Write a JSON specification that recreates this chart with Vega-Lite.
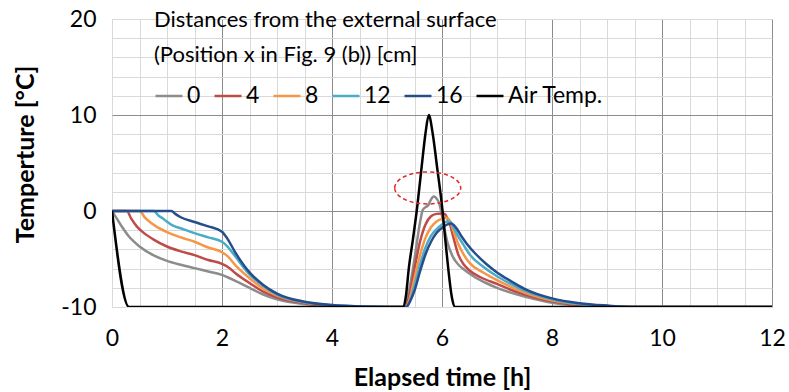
{
  "$schema": "https://vega.github.io/schema/vega-lite/v6.json",
  "width": 660,
  "height": 288,
  "autosize": {"type": "none"},
  "padding": {"left": 112, "top": 19, "right": 17, "bottom": 85},
  "background": "white",
  "config": {"font": "Lato", "view": {"stroke": "#d9d9d9"}, "axis": {"labelOverlap": false, "labelFlush": false}},
  "encoding": {
    "x": {"field": "t", "type": "quantitative", "scale": {"domain": [0, 12], "nice": false},
      "axis": {"title": "Elapsed time [h]", "values": [0,0.5,1,1.5,2,2.5,3,3.5,4,4.5,5,5.5,6,6.5,7,7.5,8,8.5,9,9.5,10,10.5,11,11.5,12],
        "labelExpr": "datum.value % 2 === 0 ? '' + datum.value : ''", "labelOverlap": false,
        "gridColor": {"condition": {"test": "datum.value % 2 === 0 && datum.value > 0", "value": "#8c8c8c"}, "value": "#d9d9d9"},
        "domain": false, "ticks": false, "labelFontSize": 23, "labelColor": "#000", "labelPadding": 20,
        "titleFontSize": 25, "titleFontWeight": "bold", "titleColor": "#000", "titlePadding": 15}},
    "y": {"field": "T", "type": "quantitative", "scale": {"domain": [-10, 20], "nice": false},
      "axis": {"title": "Temperture [°C]", "values": [-10,-8,-6,-4,-2,0,2,4,6,8,10,12,14,16,18,20],
        "labelExpr": "datum.value % 10 === 0 ? '' + datum.value : ''", "labelOverlap": false,
        "gridColor": {"condition": {"test": "datum.value === 0 || datum.value === 10", "value": "#8c8c8c"}, "value": "#d9d9d9"},
        "domain": false, "ticks": false, "labelFontSize": 23, "labelColor": "#000", "labelPadding": 16,
        "titleFontSize": 25, "titleFontWeight": "bold", "titleColor": "#000", "titlePadding": 22, "titleY": 135}}
  },
  "layer": [
    {
      "data": {"values": [
        {"t":0,"T":0,"s":"0"},{"t":0.1,"T":-0.9,"s":"0"},{"t":0.2,"T":-1.8,"s":"0"},{"t":0.3,"T":-2.6,"s":"0"},{"t":0.4,"T":-3.2,"s":"0"},{"t":0.5,"T":-3.7,"s":"0"},{"t":0.75,"T":-4.6,"s":"0"},{"t":1,"T":-5.2,"s":"0"},{"t":1.25,"T":-5.6,"s":"0"},{"t":1.5,"T":-5.95,"s":"0"},{"t":1.75,"T":-6.3,"s":"0"},{"t":2,"T":-6.65,"s":"0"},{"t":2.1,"T":-6.9,"s":"0"},{"t":2.25,"T":-7.3,"s":"0"},{"t":2.5,"T":-8.0,"s":"0"},{"t":2.75,"T":-8.7,"s":"0"},{"t":3,"T":-9.2,"s":"0"},{"t":3.5,"T":-9.7,"s":"0"},{"t":4,"T":-9.9,"s":"0"},{"t":4.5,"T":-10,"s":"0"},{"t":5.3,"T":-10,"s":"0"},{"t":5.4,"T":-8.3,"s":"0"},{"t":5.5,"T":-5,"s":"0"},{"t":5.6,"T":-1.2,"s":"0"},{"t":5.65,"T":0.1,"s":"0"},{"t":5.7,"T":0.4,"s":"0"},{"t":5.75,"T":0.6,"s":"0"},{"t":5.8,"T":1.2,"s":"0"},{"t":5.85,"T":1.5,"s":"0"},{"t":5.9,"T":1.3,"s":"0"},{"t":5.95,"T":0.8,"s":"0"},{"t":6.0,"T":-0.5,"s":"0"},{"t":6.05,"T":-2.0,"s":"0"},{"t":6.1,"T":-3.3,"s":"0"},{"t":6.2,"T":-4.8,"s":"0"},{"t":6.3,"T":-5.6,"s":"0"},{"t":6.4,"T":-6.1,"s":"0"},{"t":6.6,"T":-6.9,"s":"0"},{"t":6.8,"T":-7.5,"s":"0"},{"t":7,"T":-8.0,"s":"0"},{"t":7.25,"T":-8.5,"s":"0"},{"t":7.5,"T":-8.9,"s":"0"},{"t":8,"T":-9.55,"s":"0"},{"t":8.5,"T":-9.85,"s":"0"},{"t":9,"T":-10,"s":"0"},{"t":12,"T":-10,"s":"0"},
        {"t":0,"T":0,"s":"4"},{"t":0.27,"T":0,"s":"4"},{"t":0.35,"T":-0.8,"s":"4"},{"t":0.45,"T":-1.6,"s":"4"},{"t":0.56,"T":-2.2,"s":"4"},{"t":0.75,"T":-2.95,"s":"4"},{"t":1,"T":-3.7,"s":"4"},{"t":1.25,"T":-4.2,"s":"4"},{"t":1.5,"T":-4.6,"s":"4"},{"t":1.75,"T":-5.1,"s":"4"},{"t":2,"T":-5.5,"s":"4"},{"t":2.1,"T":-5.8,"s":"4"},{"t":2.25,"T":-6.5,"s":"4"},{"t":2.5,"T":-7.5,"s":"4"},{"t":2.75,"T":-8.4,"s":"4"},{"t":3,"T":-9.0,"s":"4"},{"t":3.5,"T":-9.6,"s":"4"},{"t":4,"T":-9.9,"s":"4"},{"t":4.5,"T":-10,"s":"4"},{"t":5.3,"T":-10,"s":"4"},{"t":5.4,"T":-9,"s":"4"},{"t":5.5,"T":-6.0,"s":"4"},{"t":5.6,"T":-3.2,"s":"4"},{"t":5.7,"T":-1.4,"s":"4"},{"t":5.8,"T":-0.55,"s":"4"},{"t":5.9,"T":-0.3,"s":"4"},{"t":6.0,"T":-0.25,"s":"4"},{"t":6.05,"T":-0.3,"s":"4"},{"t":6.1,"T":-0.8,"s":"4"},{"t":6.15,"T":-1.5,"s":"4"},{"t":6.2,"T":-2.6,"s":"4"},{"t":6.3,"T":-4.6,"s":"4"},{"t":6.4,"T":-5.6,"s":"4"},{"t":6.5,"T":-6.2,"s":"4"},{"t":6.7,"T":-6.9,"s":"4"},{"t":7,"T":-7.6,"s":"4"},{"t":7.25,"T":-8.2,"s":"4"},{"t":7.5,"T":-8.7,"s":"4"},{"t":8,"T":-9.4,"s":"4"},{"t":8.5,"T":-9.8,"s":"4"},{"t":9,"T":-9.95,"s":"4"},{"t":9.5,"T":-10,"s":"4"},{"t":12,"T":-10,"s":"4"},
        {"t":0,"T":0,"s":"8"},{"t":0.5,"T":0,"s":"8"},{"t":0.6,"T":-0.7,"s":"8"},{"t":0.7,"T":-1.2,"s":"8"},{"t":0.8,"T":-1.6,"s":"8"},{"t":1,"T":-2.2,"s":"8"},{"t":1.25,"T":-2.75,"s":"8"},{"t":1.5,"T":-3.2,"s":"8"},{"t":1.75,"T":-3.8,"s":"8"},{"t":2,"T":-4.3,"s":"8"},{"t":2.1,"T":-4.7,"s":"8"},{"t":2.25,"T":-5.7,"s":"8"},{"t":2.5,"T":-7.0,"s":"8"},{"t":2.75,"T":-8.1,"s":"8"},{"t":3,"T":-8.8,"s":"8"},{"t":3.5,"T":-9.5,"s":"8"},{"t":4,"T":-9.85,"s":"8"},{"t":4.5,"T":-10,"s":"8"},{"t":5.32,"T":-10,"s":"8"},{"t":5.4,"T":-9.4,"s":"8"},{"t":5.5,"T":-7.0,"s":"8"},{"t":5.6,"T":-4.6,"s":"8"},{"t":5.7,"T":-2.8,"s":"8"},{"t":5.8,"T":-1.7,"s":"8"},{"t":5.9,"T":-1.1,"s":"8"},{"t":6.0,"T":-0.8,"s":"8"},{"t":6.08,"T":-0.7,"s":"8"},{"t":6.15,"T":-1.1,"s":"8"},{"t":6.2,"T":-1.9,"s":"8"},{"t":6.3,"T":-3.5,"s":"8"},{"t":6.4,"T":-4.6,"s":"8"},{"t":6.5,"T":-5.4,"s":"8"},{"t":6.75,"T":-6.4,"s":"8"},{"t":7,"T":-7.2,"s":"8"},{"t":7.25,"T":-7.9,"s":"8"},{"t":7.5,"T":-8.5,"s":"8"},{"t":8,"T":-9.3,"s":"8"},{"t":8.5,"T":-9.7,"s":"8"},{"t":9,"T":-9.9,"s":"8"},{"t":9.5,"T":-10,"s":"8"},{"t":12,"T":-10,"s":"8"},
        {"t":0,"T":0,"s":"12"},{"t":0.76,"T":0,"s":"12"},{"t":0.85,"T":-0.5,"s":"12"},{"t":0.93,"T":-0.8,"s":"12"},{"t":1.1,"T":-1.5,"s":"12"},{"t":1.25,"T":-1.8,"s":"12"},{"t":1.5,"T":-2.3,"s":"12"},{"t":1.75,"T":-2.75,"s":"12"},{"t":2,"T":-3.2,"s":"12"},{"t":2.1,"T":-3.7,"s":"12"},{"t":2.25,"T":-4.8,"s":"12"},{"t":2.5,"T":-6.6,"s":"12"},{"t":2.75,"T":-7.8,"s":"12"},{"t":3,"T":-8.7,"s":"12"},{"t":3.5,"T":-9.5,"s":"12"},{"t":4,"T":-9.8,"s":"12"},{"t":4.5,"T":-9.95,"s":"12"},{"t":5,"T":-10,"s":"12"},{"t":5.33,"T":-10,"s":"12"},{"t":5.4,"T":-9.6,"s":"12"},{"t":5.5,"T":-7.8,"s":"12"},{"t":5.6,"T":-5.6,"s":"12"},{"t":5.7,"T":-3.8,"s":"12"},{"t":5.8,"T":-2.6,"s":"12"},{"t":5.9,"T":-1.9,"s":"12"},{"t":6.0,"T":-1.4,"s":"12"},{"t":6.1,"T":-1.1,"s":"12"},{"t":6.15,"T":-1.15,"s":"12"},{"t":6.2,"T":-1.6,"s":"12"},{"t":6.3,"T":-2.7,"s":"12"},{"t":6.4,"T":-3.6,"s":"12"},{"t":6.5,"T":-4.5,"s":"12"},{"t":6.75,"T":-5.8,"s":"12"},{"t":7,"T":-6.8,"s":"12"},{"t":7.25,"T":-7.6,"s":"12"},{"t":7.5,"T":-8.3,"s":"12"},{"t":8,"T":-9.2,"s":"12"},{"t":8.5,"T":-9.7,"s":"12"},{"t":9,"T":-9.9,"s":"12"},{"t":9.5,"T":-10,"s":"12"},{"t":12,"T":-10,"s":"12"},
        {"t":0,"T":0,"s":"16"},{"t":1.08,"T":0,"s":"16"},{"t":1.15,"T":-0.3,"s":"16"},{"t":1.25,"T":-0.65,"s":"16"},{"t":1.5,"T":-1.15,"s":"16"},{"t":1.75,"T":-1.6,"s":"16"},{"t":2,"T":-2.15,"s":"16"},{"t":2.1,"T":-2.9,"s":"16"},{"t":2.25,"T":-4.4,"s":"16"},{"t":2.5,"T":-6.4,"s":"16"},{"t":2.75,"T":-7.7,"s":"16"},{"t":3,"T":-8.6,"s":"16"},{"t":3.5,"T":-9.45,"s":"16"},{"t":4,"T":-9.8,"s":"16"},{"t":4.5,"T":-9.95,"s":"16"},{"t":5,"T":-10,"s":"16"},{"t":5.35,"T":-10,"s":"16"},{"t":5.42,"T":-9.4,"s":"16"},{"t":5.5,"T":-8.3,"s":"16"},{"t":5.6,"T":-6.3,"s":"16"},{"t":5.7,"T":-4.5,"s":"16"},{"t":5.8,"T":-3.2,"s":"16"},{"t":5.9,"T":-2.3,"s":"16"},{"t":6.0,"T":-1.75,"s":"16"},{"t":6.1,"T":-1.4,"s":"16"},{"t":6.17,"T":-1.3,"s":"16"},{"t":6.25,"T":-1.7,"s":"16"},{"t":6.35,"T":-2.6,"s":"16"},{"t":6.45,"T":-3.4,"s":"16"},{"t":6.6,"T":-4.4,"s":"16"},{"t":6.8,"T":-5.5,"s":"16"},{"t":7,"T":-6.4,"s":"16"},{"t":7.25,"T":-7.3,"s":"16"},{"t":7.5,"T":-8.1,"s":"16"},{"t":8,"T":-9.1,"s":"16"},{"t":8.5,"T":-9.6,"s":"16"},{"t":9,"T":-9.85,"s":"16"},{"t":9.5,"T":-10,"s":"16"},{"t":12,"T":-10,"s":"16"},
        {"t":0,"T":0,"s":"Air Temp."},{"t":0.31,"T":-10,"s":"Air Temp."},{"t":5.29,"T":-10,"s":"Air Temp."},{"t":5.34,"T":-9.0,"s":"Air Temp."},{"t":5.4,"T":-5.8,"s":"Air Temp."},{"t":5.47,"T":-3.0,"s":"Air Temp."},{"t":5.54,"T":0,"s":"Air Temp."},{"t":5.63,"T":4.6,"s":"Air Temp."},{"t":5.7,"T":8.1,"s":"Air Temp."},{"t":5.76,"T":10,"s":"Air Temp."},{"t":5.83,"T":8.1,"s":"Air Temp."},{"t":5.91,"T":4.6,"s":"Air Temp."},{"t":6.01,"T":0,"s":"Air Temp."},{"t":6.06,"T":-3.0,"s":"Air Temp."},{"t":6.11,"T":-5.8,"s":"Air Temp."},{"t":6.18,"T":-9.0,"s":"Air Temp."},{"t":6.24,"T":-10,"s":"Air Temp."},{"t":12,"T":-10,"s":"Air Temp."}
      ]},
      "mark": {"type": "line", "strokeWidth": 2.5, "interpolate": "monotone", "clip": true},
      "encoding": {
        "color": {"field": "s", "type": "nominal", "sort": ["0","4","8","12","16","Air Temp."],
          "scale": {"domain": ["0","4","8","12","16","Air Temp."], "range": ["#8c8c8c","#be4b48","#f79646","#4bacc6","#264d8c","#000000"]},
          "legend": {"orient": "none", "legendX": 42, "legendY": -9, "direction": "horizontal",
            "title": ["Distances from the external surface", "(Position x in Fig. 9 (b)) [cm]"],
            "titleFontSize": 22, "titleFontWeight": "normal", "titleColor": "#000", "titleLineHeight": 35, "titlePadding": 14, "titleLimit": 700,
            "labelFontSize": 23, "labelColor": "#000", "labelLimit": 300, "symbolType": "stroke", "symbolSize": 729, "symbolStrokeWidth": 2.5,
            "labelOffset": 3, "columnPadding": 8}}
      }
    },
    {
      "data": {"values": [{"t": 5.74, "T": 2.4}]},
      "mark": {"type": "point", "shape": "M -1,0 A 1,0.485 0 1,1 1,0 A 1,0.485 0 1,1 -1,0 Z", "size": 4356,
        "filled": false, "stroke": "#e02828", "strokeWidth": 1.5, "strokeDash": [4, 3], "opacity": 1}
    }
  ]
}
